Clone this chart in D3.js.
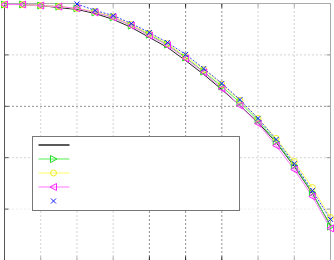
<!DOCTYPE html>
<html>
<head>
<meta charset="utf-8">
<script src="https://cdn.jsdelivr.net/npm/d3@7"></script>
<style>
  body { margin: 0; background: #fff; }
  svg { display: block; }
</style>
</head>
<body>
<svg></svg>
<script>
let width = 334
let height = 260

// x positions of the samples (every 5 from 0 to 90)
let xValues = [0, 5, 10, 15, 20, 25, 30, 35, 40, 45, 50, 55, 60, 65, 70, 75, 80, 85, 90]
let xTicks = [0, 10, 20, 30, 40, 50, 60, 70, 80, 90]
let yTicks = [0, 0.2, 0.4, 0.6, 0.8, 1]

let blackValues = [0.996, 0.996, 0.992, 0.984, 0.977, 0.961, 0.938, 0.907, 0.868, 0.829, 0.778, 0.724, 0.665, 0.603, 0.537, 0.459, 0.366, 0.261, 0.136]
let greenValues = [0.996, 0.996, 0.992, 0.988, 0.981, 0.965, 0.946, 0.914, 0.879, 0.840, 0.790, 0.735, 0.677, 0.615, 0.545, 0.463, 0.370, 0.265, 0.132]
let yellowValues = [0.996, 0.996, 0.992, 0.988, 0.981, 0.969, 0.949, 0.918, 0.883, 0.844, 0.794, 0.743, 0.685, 0.623, 0.553, 0.475, 0.385, 0.284, 0.167]
let magentaValues = [0.996, 0.996, 0.992, 0.988, 0.981, 0.965, 0.946, 0.914, 0.875, 0.837, 0.786, 0.732, 0.669, 0.603, 0.533, 0.447, 0.354, 0.249, 0.125]
// blue only shows from x = 20 on
let blueValues = [null, null, null, null, 0.998, 0.973, 0.953, 0.922, 0.887, 0.848, 0.802, 0.747, 0.689, 0.626, 0.553, 0.471, 0.377, 0.272, 0.160]

// grid colours come out uneven in the original, keep that
let xGridColors = ['#444', '#aaa', '#aaa', '#aaa', '#222', '#222', '#222', '#aaa', '#aaa', '#aaa']
let yGridColors = ['#aaa', '#ddd', '#aaa', '#222', '#aaa', '#aaa']

let markers = {
    none: null,
    right: 'M-3,-3.5L3.5,0L-3,3.5Z',
    left: 'M3,-3.5L-3.5,0L3,3.5Z',
    circle: 'M3,0A3,3 0 1,1 -3,0A3,3 0 1,1 3,0Z',
    cross: 'M-2.5,-2.5L2.5,2.5M-2.5,2.5L2.5,-2.5'
}

let series = [
    { values: blackValues, line: '#222', marker: 'none', mcolor: '#222', dash: null, legendLine: true },
    { values: greenValues, line: '#55ee55', marker: 'right', mcolor: '#22dd22', dash: null, legendLine: true },
    { values: yellowValues, line: '#ffff66', marker: 'circle', mcolor: '#eeee22', dash: null, legendLine: true },
    { values: magentaValues, line: '#ff77ff', marker: 'left', mcolor: '#ff22ff', dash: null, legendLine: true },
    { values: blueValues, line: '#3344ff', marker: 'cross', mcolor: '#1122ff', dash: '2,1.5', legendLine: false }
]

let svg = d3.select('svg').attr('width', width).attr('height', height)

let xScale = d3.scaleLinear().domain([0, 90]).range([4.5, 330.5])
let yScale = d3.scaleLinear().domain([0, 1]).range([260.5, 3.5])

// grid
svg.append('g').selectAll('line')
    .data(xTicks.slice(1, -1))
    .enter()
    .append('line')
    .attr('x1', d => xScale(d)).attr('x2', d => xScale(d))
    .attr('y1', yScale(1)).attr('y2', yScale(0))
    .attr('stroke', (d, i) => xGridColors[i + 1])
    .attr('stroke-dasharray', '1,3')

svg.append('g').selectAll('line')
    .data(yTicks.slice(1, -1))
    .enter()
    .append('line')
    .attr('y1', d => yScale(d)).attr('y2', d => yScale(d))
    .attr('x1', xScale(0)).attr('x2', xScale(90))
    .attr('stroke', (d, i) => yGridColors[i + 1])
    .attr('stroke-dasharray', '1,3')

// ticks (inside, on all sides, no labels)
let ticks = svg.append('g')
xTicks.forEach((t, i) => {
    ticks.append('line').attr('x1', xScale(t)).attr('x2', xScale(t))
        .attr('y1', yScale(1)).attr('y2', yScale(1) + 4).attr('stroke', xGridColors[i])
    ticks.append('line').attr('x1', xScale(t)).attr('x2', xScale(t))
        .attr('y1', yScale(0)).attr('y2', yScale(0) - 4).attr('stroke', xGridColors[i])
})
yTicks.forEach((t, i) => {
    ticks.append('line').attr('y1', yScale(t)).attr('y2', yScale(t))
        .attr('x1', xScale(0)).attr('x2', xScale(0) + 4).attr('stroke', '#555')
    ticks.append('line').attr('y1', yScale(t)).attr('y2', yScale(t))
        .attr('x1', xScale(90)).attr('x2', xScale(90) - 4).attr('stroke', '#999')
})

// axes box
svg.append('line').attr('x1', xScale(0)).attr('x2', xScale(90)).attr('y1', yScale(1)).attr('y2', yScale(1)).attr('stroke', '#aaa')
svg.append('line').attr('x1', xScale(90)).attr('x2', xScale(90)).attr('y1', yScale(1)).attr('y2', yScale(0)).attr('stroke', '#aaa')
svg.append('line').attr('x1', xScale(0)).attr('x2', xScale(90)).attr('y1', yScale(0)).attr('y2', yScale(0)).attr('stroke', '#555')
svg.append('line').attr('x1', xScale(0)).attr('x2', xScale(0)).attr('y1', yScale(1)).attr('y2', yScale(0)).attr('stroke', '#555')

let lineGen = d3.line()
    .defined(d => d != null)
    .x((d, i) => xScale(xValues[i]))
    .y(d => yScale(d))

// curves
series.forEach(s => {
    let path = svg.append('path')
        .attr('d', lineGen(s.values))
        .attr('fill', 'none')
        .attr('stroke', s.line)
        .attr('stroke-width', 1)
    if (s.dash) path.attr('stroke-dasharray', s.dash)
})

// markers
series.forEach(s => {
    if (!markers[s.marker]) return
    svg.append('g').selectAll('path')
        .data(s.values.map((v, i) => ({ x: xValues[i], y: v })).filter(d => d.y != null))
        .enter()
        .append('path')
        .attr('transform', d => 'translate(' + xScale(d.x) + ',' + yScale(d.y) + ')')
        .attr('d', markers[s.marker])
        .attr('fill', 'none')
        .attr('stroke', s.mcolor)
        .attr('stroke-width', 1)
})

// legend (entries have no text)
let legend = svg.append('g').attr('transform', 'translate(32.5, 136.5)')
legend.append('rect')
    .attr('width', 207).attr('height', 74)
    .attr('fill', '#fff').attr('stroke', '#777')

series.forEach((s, i) => {
    let yy = 8.5 + i * 14
    if (s.legendLine) {
        legend.append('line').attr('x1', 6).attr('x2', 37).attr('y1', yy).attr('y2', yy)
            .attr('stroke', s.line).attr('stroke-width', i == 0 ? 1.5 : 1)
    }
    if (markers[s.marker]) {
        legend.append('path')
            .attr('transform', 'translate(21,' + yy + ')')
            .attr('d', markers[s.marker])
            .attr('fill', 'none')
            .attr('stroke', s.mcolor)
    }
})
</script>
</body>
</html>
